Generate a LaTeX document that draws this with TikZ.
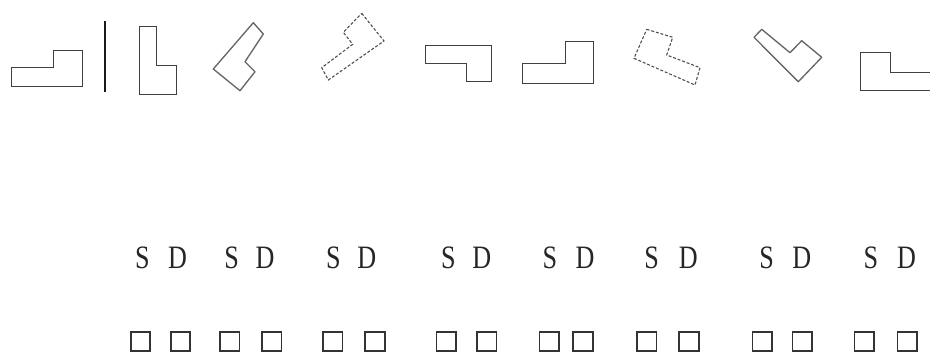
\documentclass[tikz,border=0pt]{standalone}
\usepackage{fontspec}
\setmainfont{Liberation Serif}
\begin{document}
\begin{tikzpicture}[x=0.75pt,y=-0.75pt,
  outl/.style={draw=black!75,line width=0.7pt,line join=miter},
  soft/.style={draw=black!60,line width=1pt,line join=round},
  dsh/.style={draw=black!70,line width=0.8pt,dash pattern=on 2.2pt off 1.4pt},
  lett/.style={anchor=base,inner sep=0pt,font=\fontsize{24.5}{28}\selectfont,text=black!85},
  sq/.style={draw=black!80,line width=1.3pt,minimum size=14.6pt,inner sep=0pt}]
\useasboundingbox (0,0) rectangle (930,354);
\clip (0,0) rectangle (930,354);
% shapes of the top row
\draw[outl] (11.7,86.7) -- (11.7,67.7) -- (53.3,67.7) -- (53.3,50.7) -- (82,50.7) -- (82,86.7) -- cycle;
\draw[draw=black!90,line width=1.5pt] (105.3,20.7) -- (105.3,91.7);
\draw[outl] (139,26) -- (156,26) -- (156,65) -- (176,65) -- (176,94) -- (139,94) -- cycle;
\draw[soft] (213.3,69) -- (253.3,22.7) -- (263.3,34) -- (245,61.7) -- (255,71.7) -- (240,90.7) -- cycle;
\draw[dsh] (361.7,13.3) -- (384,41) -- (328.3,80) -- (321.7,67.7) -- (352.7,44.3) -- (343.3,32.3) -- cycle;
\draw[outl] (425,45) -- (491.7,45) -- (491.7,81.7) -- (466.7,81.7) -- (466.7,63.3) -- (425,63.3) -- cycle;
\draw[outl] (522.3,63.3) -- (565,63.3) -- (565,41.7) -- (593.3,41.7) -- (593.3,83.3) -- (522.3,83.3) -- cycle;
\draw[dsh] (646.7,29.3) -- (672.7,37.3) -- (666.7,55) -- (700,67.7) -- (695,85) -- (634,58.3) -- cycle;
\draw[soft] (754,37.3) -- (761.7,29.3) -- (790,52.7) -- (801.7,40.7) -- (821.7,57.3) -- (798.3,81.7) -- cycle;
\draw[outl] (940,72.7) -- (890.7,72.7) -- (890.7,52.7) -- (860,52.7) -- (860,90.7) -- (940,90.7);
% letters
\foreach \n/\s/\d in {1/142.5/177.5, 2/231.7/265, 3/333.3/366.7, 4/448.3/481.7,
                      5/550/585, 6/651.7/688.3, 7/766.7/801.7, 8/871/906.5}{
  \node[lett] (s\n) at (\s,268) {\scalebox{0.8}[1]{S}};
  \node[lett] (d\n) at (\d,268) {\scalebox{0.8}[1]{D}};
}
% squares
\foreach \n/\a/\b in {1/140.5/180.5, 2/229.7/271.7, 3/332.7/375, 4/446.3/486.7,
                      5/549.3/583, 6/646.7/689, 7/762.3/802.3, 8/864.3/907.3}{
  \node[sq] (p\n) at (\a,341.5) {};
  \node[sq] (q\n) at (\b,341.5) {};
}
\end{tikzpicture}
\end{document}
